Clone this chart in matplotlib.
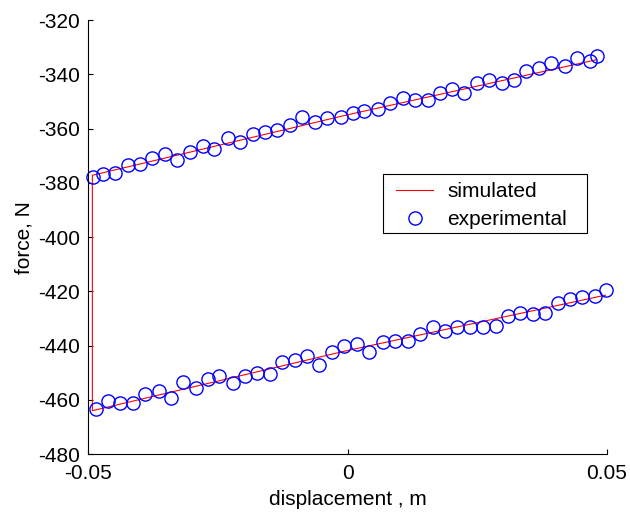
import matplotlib
matplotlib.use("Agg")
import matplotlib.pyplot as plt
from matplotlib.patches import Rectangle

# experimental points, upper branch
exp_top_x = [-0.04915, -0.04711, -0.04479, -0.04240, -0.04003, -0.03778, -0.03521,
             -0.03284, -0.03039, -0.02794, -0.02571, -0.02313, -0.02075, -0.01831,
             -0.01593, -0.01356, -0.01111, -0.00886, -0.00624, -0.00392, -0.00134,
             0.00097, 0.00315, 0.00579, 0.00816, 0.01073, 0.01298, 0.01555, 0.01780,
             0.02018, 0.02243, 0.02488, 0.02731, 0.02982, 0.03213, 0.03438, 0.03689,
             0.03920, 0.04190, 0.04416, 0.04672, 0.04801]
exp_top_y = [-377.8, -376.8, -376.3, -373.5, -373.1, -371.0, -369.4, -371.4, -368.7,
             -366.3, -367.4, -363.4, -365.0, -361.9, -361.2, -360.6, -358.7, -355.6,
             -357.5, -356.2, -355.6, -354.4, -353.5, -352.6, -350.7, -348.6, -349.5,
             -349.5, -346.8, -345.5, -347.0, -343.1, -341.9, -343.3, -341.9, -338.8,
             -337.6, -335.7, -337.0, -333.8, -335.1, -333.3]

# experimental points, lower branch
exp_bot_x = [-0.04852, -0.04614, -0.04389, -0.04132, -0.03901, -0.03637, -0.03411,
             -0.03180, -0.02924, -0.02698, -0.02474, -0.02216, -0.01979, -0.01753,
             -0.01497, -0.01271, -0.01015, -0.00778, -0.00552, -0.00296, -0.00070,
             0.00186, 0.00417, 0.00676, 0.00913, 0.01169, 0.01395, 0.01651, 0.01883,
             0.02114, 0.02359, 0.02604, 0.02854, 0.03086, 0.03323, 0.03568, 0.03799,
             0.04061, 0.04287, 0.04524, 0.04769, 0.04975]
exp_bot_y = [-463.5, -460.3, -461.2, -461.2, -458.0, -456.8, -459.2, -453.6, -455.6,
             -452.5, -451.3, -453.7, -451.3, -450.0, -450.6, -446.1, -445.4, -443.9,
             -447.0, -442.4, -440.1, -439.5, -442.3, -438.8, -438.2, -438.2, -435.8,
             -433.3, -434.5, -433.3, -433.3, -433.3, -432.7, -429.0, -427.8, -428.4,
             -427.8, -424.4, -422.9, -422.0, -421.6, -419.5]

# simulated loop (upper branch right->left, jump down, lower branch left->right)
sim_x = [0.0480, 0.0000, -0.0492, -0.0492, 0.0000, 0.0497]
sim_y = [-334.6, -354.9, -377.2, -464.0, -441.8, -421.4]

xticks = [-0.05, 0, 0.05]
xticklabels = ["-0.05", "0", "0.05"]
yticks = [-480, -460, -440, -420, -400, -380, -360, -340, -320]

plt.rcParams["font.family"] = ["Liberation Sans", "DejaVu Sans"]
plt.rcParams["axes.unicode_minus"] = False
fs = 15

fig = plt.figure(figsize=(6.3, 5.16), dpi=100)
ax = fig.add_axes([0.140, 0.120, 0.8235, 0.841])

ax.plot(sim_x, sim_y, color="#ff0000", lw=0.8, label="simulated")
ax.plot(exp_top_x + exp_bot_x, exp_top_y + exp_bot_y, ls="none", marker="o",
        ms=9.5, mfc="none", mec="#0000ff", mew=1.0, label="experimental",
        clip_on=False)

ax.set_xlim(-0.05, 0.05)
ax.set_ylim(-480, -320)
ax.set_xticks(xticks)
ax.set_xticklabels(xticklabels)
ax.set_yticks(yticks)
ax.tick_params(direction="in", length=3.5, width=0.8, labelsize=fs)
ax.tick_params(axis="x", pad=7)
ax.tick_params(axis="y", pad=6)
for s in ["top", "right"]:
    ax.spines[s].set_visible(False)
for s in ["left", "bottom"]:
    ax.spines[s].set_linewidth(0.8)

ax.set_xlabel("displacement , m", fontsize=fs, labelpad=5)
ax.set_ylabel("force, N", fontsize=fs, labelpad=3)

# legend box (MATLAB style: square frame)
ax.add_patch(Rectangle((0.5676, 0.510), 0.3944, 0.1353, transform=ax.transAxes,
                       facecolor="white", edgecolor="black", lw=0.8, zorder=4))
leg = ax.legend(loc="upper left", bbox_to_anchor=(0.5932, 0.626), fontsize=fs,
                frameon=False, numpoints=1, handlelength=1.8,
                borderpad=0.0, labelspacing=0.42, handletextpad=0.65,
                borderaxespad=0)
leg.set_zorder(5)

fig.savefig("out.png", dpi=100)
